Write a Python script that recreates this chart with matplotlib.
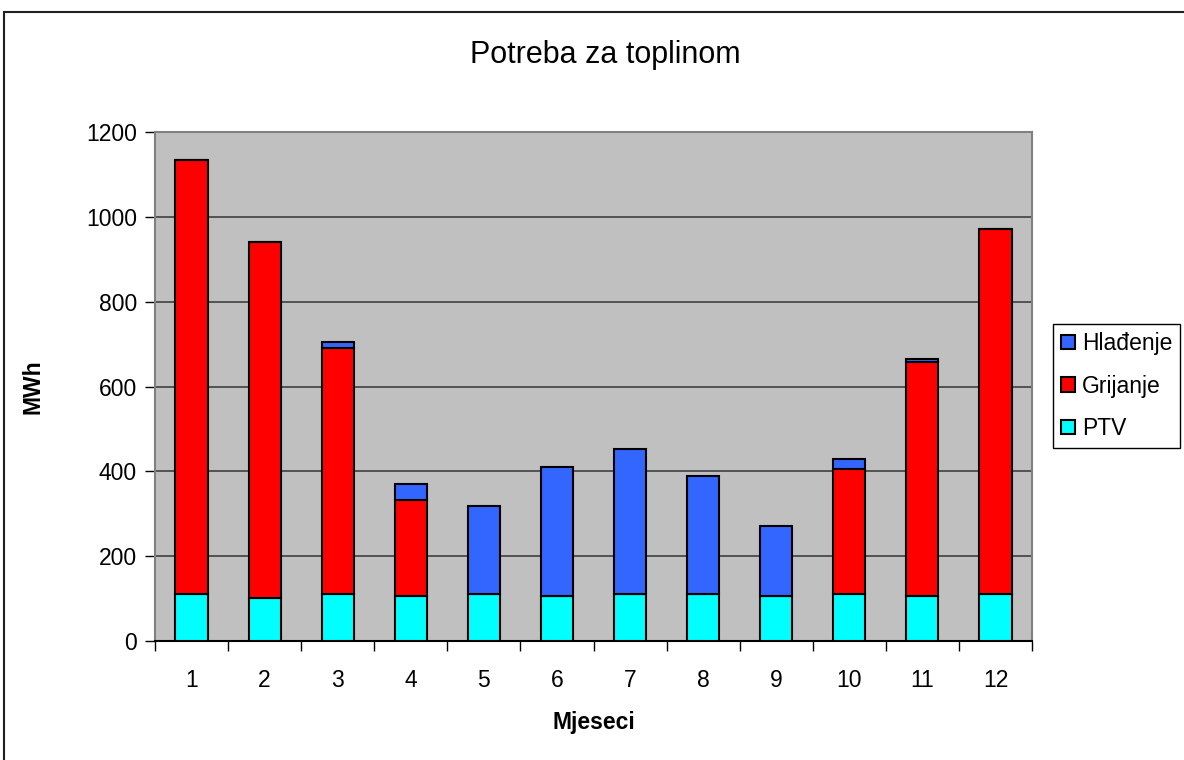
from matplotlib import pyplot as plt
from matplotlib.patches import Rectangle
import numpy as np

plt.rcParams['font.family'] = ['Liberation Sans', 'DejaVu Sans']

months = ['1', '2', '3', '4', '5', '6', '7', '8', '9', '10', '11', '12']
ptv = [110, 102, 110, 106, 110, 106, 110, 110, 106, 110, 106, 110]
grijanje = [1024, 838, 581, 226, 0, 0, 0, 0, 0, 295, 552, 862]
hladenje = [0, 0, 14, 37, 208, 304, 342, 278, 166, 25, 6, 0]

if __name__ == '__main__':
    fig = plt.figure(figsize=(11.84, 7.6), dpi=100)
    ax = fig.add_axes([155 / 1184, 119 / 760, 877 / 1184, 509 / 760])
    ax.set_facecolor('#c0c0c0')

    x = np.arange(1, len(months) + 1)
    w = 0.44
    bot2 = np.array(ptv)
    bot3 = bot2 + np.array(grijanje)
    b1 = ax.bar(x, ptv, w, color='#00ffff', edgecolor='black', linewidth=1.5, label='PTV', zorder=3)
    b2 = ax.bar(x, grijanje, w, bottom=bot2, color='#ff0000', edgecolor='black', linewidth=1.5,
                label='Grijanje', zorder=3)
    b3 = ax.bar(x, hladenje, w, bottom=bot3, color='#3366ff', edgecolor='black', linewidth=1.5,
                label='Hlađenje', zorder=3)

    ax.set_xlim(0.5, 12.5)
    ax.set_ylim(0, 1200)
    ax.set_yticks(np.arange(0, 1201, 200))
    ax.yaxis.grid(True, color='#404040', linewidth=1.2, zorder=1)
    ax.set_axisbelow(True)

    ax.set_xticks(x)
    ax.set_xticklabels(months)
    ax.set_xticks(np.arange(0.5, 12.6, 1), minor=True)
    ax.tick_params(axis='x', which='major', length=0, pad=20, labelsize=16.5)
    ax.tick_params(axis='x', which='minor', length=7, direction='out', width=1)
    ax.tick_params(axis='y', which='major', length=7, direction='out', width=1, labelsize=16.5, pad=6)

    for s in ['top', 'right', 'left']:
        ax.spines[s].set_color('#808080')
        ax.spines[s].set_linewidth(1.5)
    ax.spines['bottom'].set_color('black')
    ax.spines['bottom'].set_linewidth(1.5)

    ax.set_xlabel('Mjeseci', fontsize=16.5, fontweight='bold', labelpad=14)
    ax.yaxis.set_label_coords(-(155 - 33) / 877, 0.5)
    ax.set_ylabel('MWh', fontsize=16.5, fontweight='bold', va='center')
    fig.text(605 / 1184, 1 - 55 / 760, 'Potreba za toplinom', fontsize=22,
             ha='center', va='center')

    fig.legend([b3, b2, b1], ['Hlađenje', 'Grijanje', 'PTV'],
               loc='upper left', bbox_to_anchor=(1053 / 1184, 1 - 324 / 760),
               fontsize=16.5, frameon=True, fancybox=False, edgecolor='black',
               framealpha=1, handlelength=0.6, handleheight=0.6, handletextpad=0.3,
               labelspacing=0.85, borderpad=0.35, borderaxespad=0)

    # outer chart frame (cut off on right and bottom)
    fig.patches.append(Rectangle((4 / 1184, -0.1), 2, 1.1 - 12 / 760, transform=fig.transFigure,
                                 fill=False, edgecolor='#202020', linewidth=1.5))

    fig.savefig('out.png')
